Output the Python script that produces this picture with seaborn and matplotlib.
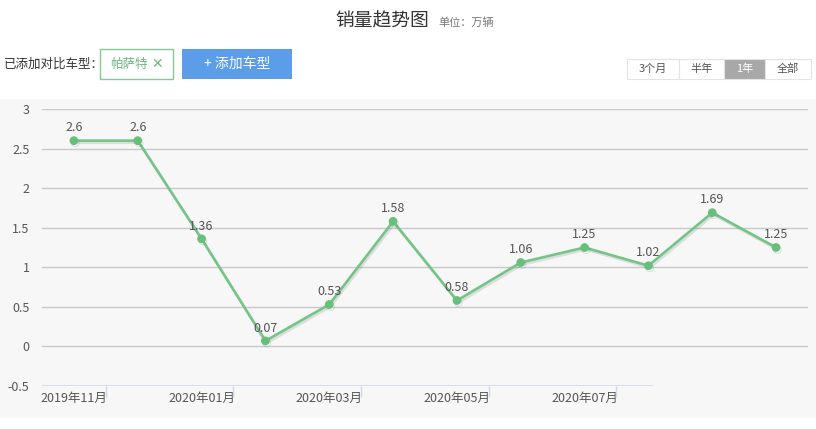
import matplotlib
matplotlib.use("Agg")
import matplotlib.pyplot as plt
import matplotlib.patheffects as pe
from matplotlib.patches import Rectangle
import pandas as pd
import seaborn as sns

# 数据
months = ["2019年11月", "2019年12月", "2020年01月", "2020年02月", "2020年03月", "2020年04月",
          "2020年05月", "2020年06月", "2020年07月", "2020年08月", "2020年09月", "2020年10月"]
sales = [2.6, 2.6, 1.36, 0.07, 0.53, 1.58, 0.58, 1.06, 1.25, 1.02, 1.69, 1.25]
y_ticks = [-0.5, 0, 0.5, 1, 1.5, 2, 2.5, 3]
y_tick_labels = ["-0.5", "0", "0.5", "1", "1.5", "2", "2.5", "3"]
shown_months = [0, 2, 4, 6, 8]
range_buttons = ["3个月", "半年", "1年", "全部"]

GREEN = "#74c488"
GREEN_DOT = "#66c07c"
PANEL = "#f7f7f7"
GRID = "#c9c9c9"
AXIS = "#ccd8e6"
TEXT = "#555555"
DARK = "#333333"
BLUE = "#5b9de8"

sns.set_style("white")
plt.rcParams["font.family"] = ["Noto Sans CJK SC", "DejaVu Sans"]
plt.rcParams["axes.unicode_minus"] = False

W, H = 816, 429
fig = plt.figure(figsize=(W / 100, H / 100), dpi=100)
fig.patch.set_facecolor("white")

def fx(px):
    return px / W

def fy(py):
    return 1 - py / H

# 灰色背景
fig.patches.append(Rectangle((0, fy(418)), 1, (418 - 99) / H, transform=fig.transFigure,
                             facecolor=PANEL, edgecolor="none", zorder=-10))

# 头部
fig.text(fx(382), fy(21), "销量趋势图", fontsize=13.5, color=DARK, ha="center", va="center")
fig.text(fx(438), fy(23), "单位：万辆", fontsize=8, color="#777777", ha="left", va="center")
fig.text(fx(4), fy(64), "已添加对比车型：", fontsize=9, color=DARK, ha="left", va="center")
fig.patches.append(Rectangle((fx(99.5), fy(79)), fx(73), 30 / H, transform=fig.transFigure,
                             facecolor="white", edgecolor="#86c797", linewidth=1))
fig.text(fx(110), fy(64), "帕萨特", fontsize=9, color="#6db580", ha="left", va="center")
fig.text(fx(157), fy(64), "✕", fontsize=10, color="#6db580", ha="center", va="center",
         family=["DejaVu Sans"])
fig.patches.append(Rectangle((fx(182), fy(79)), fx(110), 30 / H, transform=fig.transFigure,
                             facecolor=BLUE, edgecolor="none"))
fig.text(fx(237), fy(64), "+ 添加车型", fontsize=10, color="white", ha="center", va="center")

edges = [627, 679, 724, 765, 811]
for i, lab in enumerate(range_buttons):
    x0, x1 = edges[i], edges[i + 1]
    active = lab == "1年"
    fig.patches.append(Rectangle((fx(x0), fy(79)), fx(x1 - x0), 20 / H, transform=fig.transFigure,
                                 facecolor="#a8a8a8" if active else "white",
                                 edgecolor="#e3e3e3", linewidth=0.8))
    fig.text(fx((x0 + x1) / 2), fy(69), lab, fontsize=8, ha="center", va="center",
             color="white" if active else TEXT)

# 图表
ax = fig.add_axes([fx(42), fy(386), fx(766), (386 - 109) / H])
ax.patch.set_alpha(0)
df = pd.DataFrame({"idx": range(len(months)), "sales": sales})
sns.lineplot(data=df, x="idx", y="sales", ax=ax, color=GREEN, linewidth=1.9,
             marker="o", markersize=5.5, markerfacecolor=GREEN_DOT, markeredgecolor=GREEN_DOT,
             path_effects=[pe.SimpleLineShadow(offset=(1, -1.5), alpha=0.1), pe.Normal()],
             zorder=3)
for i, v in enumerate(sales):
    ax.annotate(f"{v:g}", (i, v), xytext=(0, 4.5), textcoords="offset points",
                ha="center", va="bottom", fontsize=9, color=TEXT, zorder=4)

ax.set_xlim(-0.5, len(months) - 0.5)
ax.set_ylim(-0.5, 3)
ax.set_yticks(y_ticks)
ax.set_yticklabels(y_tick_labels)
for t in y_ticks[1:]:
    ax.axhline(t, color=GRID, linewidth=1, zorder=1)
ax.axhline(-0.5, xmin=0, xmax=(652 - 42) / 766, color=AXIS, linewidth=1.1, zorder=2)

ax.set_xticks(shown_months)
ax.set_xticklabels([months[i] for i in shown_months])
ax.set_xticks([i + 0.5 for i in shown_months], minor=True)
ax.tick_params(axis="x", which="major", bottom=False, length=0, pad=4, labelsize=9, labelcolor=TEXT)
ax.tick_params(axis="x", which="minor", bottom=True, length=8, width=1, color=AXIS, direction="out")
ax.tick_params(axis="y", length=0, pad=9, labelsize=9, labelcolor=TEXT)
ax.set_xlabel("")
ax.set_ylabel("")
for s in ax.spines.values():
    s.set_visible(False)

fig.savefig("out.png", dpi=100, facecolor="white")
